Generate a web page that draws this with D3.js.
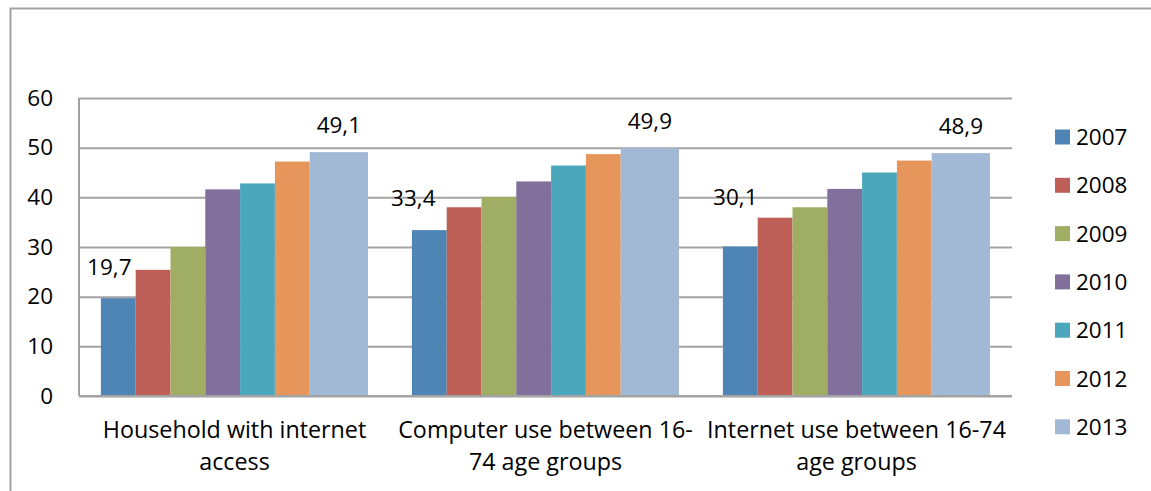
<!DOCTYPE html>
<html>
<head>
<meta charset="utf-8">
<script src="https://cdn.jsdelivr.net/npm/d3@7"></script>
<style>
    body { margin: 0; background: #fff; }
    text { font-family: "Open Sans", "Noto Sans", sans-serif; fill: #000; }
</style>
</head>
<body>
<div id="chart"></div>
<script>

// data
var categories = [
    "Household with internet\naccess",
    "Computer use between 16-\n74 age groups",
    "Internet use between 16-74\nage groups"
];
var years = ["2007", "2008", "2009", "2010", "2011", "2012", "2013"];
var values2007 = [19.7, 33.4, 30.1];
var values2008 = [25.4, 38.0, 35.9];
var values2009 = [30.0, 40.1, 38.0];
var values2010 = [41.6, 43.2, 41.7];
var values2011 = [42.8, 46.4, 45.0];
var values2012 = [47.2, 48.7, 47.4];
var values2013 = [49.1, 49.9, 48.9];
var labelledYears = ["2007", "2013"];
var yTicks = [0, 10, 20, 30, 40, 50, 60];

var colors = ["#4f85b5", "#bd5f56", "#9fae64", "#82709c", "#4ba7bc", "#e6965a", "#a2b9d6"];

// label nudges (px), the labels were moved by hand in the original
var labelNudge = {
    "2007": [[-9, -23], [-16, -24], [-5, -42]],
    "2013": [[0, -19], [0, -19], [0, -19]]
};

BarChart = function(_parentElement){
    this.parentElement = _parentElement;
    this.initVis();
}

BarChart.prototype.initVis = function() {
    var vis = this;

    vis.margin = {top: 98, right: 139, bottom: 95, left: 79};
    vis.width = 1151 - vis.margin.left - vis.margin.right;
    vis.height = 491 - vis.margin.top - vis.margin.bottom;

    vis.svg = d3.select("#" + vis.parentElement).append("svg")
        .attr("width", 1151)
        .attr("height", 491);

    // outer chart frame (runs off the right and bottom edges)
    vis.svg.append("rect")
        .attr("x", 10.5)
        .attr("y", 8.5)
        .attr("width", 1300)
        .attr("height", 600)
        .attr("fill", "none")
        .attr("stroke", "#a3a3a3")
        .attr("stroke-width", 2);

    vis.g = vis.svg.append("g")
        .attr("transform", "translate(" + vis.margin.left + "," + vis.margin.top + ")");

    vis.y = d3.scaleLinear()
        .domain([0, 60])
        .range([vis.height, 0]);

    vis.x0 = d3.scaleBand()
        .domain(categories)
        .range([0, vis.width]);

    var band = vis.x0.bandwidth();
    vis.barW = band * 34.8 / 311;
    vis.offset = band * 21.9 / 311;

    vis.x1 = d3.scaleBand()
        .domain(years)
        .range([0, vis.barW * years.length]);

    vis.color = d3.scaleOrdinal()
        .domain(years)
        .range(colors);

    // gridlines
    vis.g.append("g")
        .attr("class", "grid")
        .call(d3.axisLeft(vis.y).tickValues(yTicks).tickSize(-vis.width).tickFormat(""))
        .call(function(g) { g.select(".domain").remove(); })
        .selectAll("line")
        .attr("stroke", "#a3a3a3")
        .attr("stroke-width", 2);

    // y axis labels
    vis.g.append("g")
        .attr("class", "axis")
        .call(d3.axisLeft(vis.y).tickValues(yTicks).tickSize(0).tickPadding(26))
        .call(function(g) { g.select(".domain").remove(); })
        .selectAll("text")
        .style("font-size", "22.5px");

    // left axis line
    vis.g.append("line")
        .attr("x1", 0).attr("x2", 0)
        .attr("y1", 0).attr("y2", vis.height)
        .attr("stroke", "#a3a3a3")
        .attr("stroke-width", 2);

    vis.bars = vis.g.append("g").attr("class", "bars");

    // bottom axis line
    vis.g.append("line")
        .attr("x1", 0).attr("x2", vis.width)
        .attr("y1", vis.y(0)).attr("y2", vis.y(0))
        .attr("stroke", "#a3a3a3")
        .attr("stroke-width", 2);

    // category labels
    var cat = vis.g.append("g")
        .selectAll(".cat")
        .data(categories)
        .enter()
        .append("text")
        .attr("class", "cat")
        .attr("text-anchor", "middle")
        .attr("transform", function(d) {
            return "translate(" + (vis.x0(d) + vis.x0.bandwidth() / 2) + "," + (vis.height + 42) + ")";
        })
        .style("font-size", "23.3px");

    cat.selectAll("tspan")
        .data(function(d) { return d.split("\n"); })
        .enter()
        .append("tspan")
        .attr("x", 0)
        .attr("y", function(d, i) { return i * 31.5; })
        .text(function(d) { return d; });

    vis.labels = vis.g.append("g").attr("class", "labels");

    // legend
    vis.legend = vis.svg.append("g")
        .attr("class", "legend")
        .attr("transform", "translate(1055,137)");

    var item = vis.legend.selectAll(".item")
        .data(years)
        .enter()
        .append("g")
        .attr("class", "item")
        .attr("transform", function(d, i) { return "translate(0," + (i * 48.3) + ")"; });

    item.append("rect")
        .attr("x", 0)
        .attr("y", -7.5)
        .attr("width", 15)
        .attr("height", 15)
        .attr("fill", function(d) { return vis.color(d); });

    item.append("text")
        .attr("x", 21)
        .attr("dy", "0.36em")
        .style("font-size", "22.5px")
        .text(function(d) { return d; });
}

BarChart.prototype.updateVis = function() {
    var vis = this;

    var seriesValues = [values2007, values2008, values2009, values2010, values2011, values2012, values2013];

    vis.data = [];
    categories.forEach(function(c, ci) {
        years.forEach(function(yr, si) {
            vis.data.push({cat: c, ci: ci, year: yr, si: si, value: seriesValues[si][ci]});
        });
    });

    var lastYear = years[years.length - 1];

    var barWidth = function(d) {
        // the last series is drawn wider in the original
        return d.year == lastYear ? vis.barW * 1.675 : vis.x1.bandwidth();
    };

    vis.bars.selectAll("rect")
        .data(vis.data)
        .enter()
        .append("rect")
        .attr("x", function(d) { return vis.x0(d.cat) + vis.offset + vis.x1(d.year); })
        .attr("y", function(d) { return vis.y(d.value); })
        .attr("width", barWidth)
        .attr("height", function(d) { return vis.y(0) - vis.y(d.value); })
        .attr("fill", function(d) { return vis.color(d.year); });

    vis.labels.selectAll("text")
        .data(vis.data.filter(function(d) { return labelledYears.indexOf(d.year) >= 0; }))
        .enter()
        .append("text")
        .attr("text-anchor", "middle")
        .attr("x", function(d) {
            return vis.x0(d.cat) + vis.offset + vis.x1(d.year) + barWidth(d) / 2 + labelNudge[d.year][d.ci][0];
        })
        .attr("y", function(d) { return vis.y(d.value) + labelNudge[d.year][d.ci][1]; })
        .style("font-size", "22.5px")
        .text(function(d) { return d3.format(".1f")(d.value).replace(".", ","); });
}

var chart = new BarChart("chart");
chart.updateVis();

</script>
</body>
</html>
